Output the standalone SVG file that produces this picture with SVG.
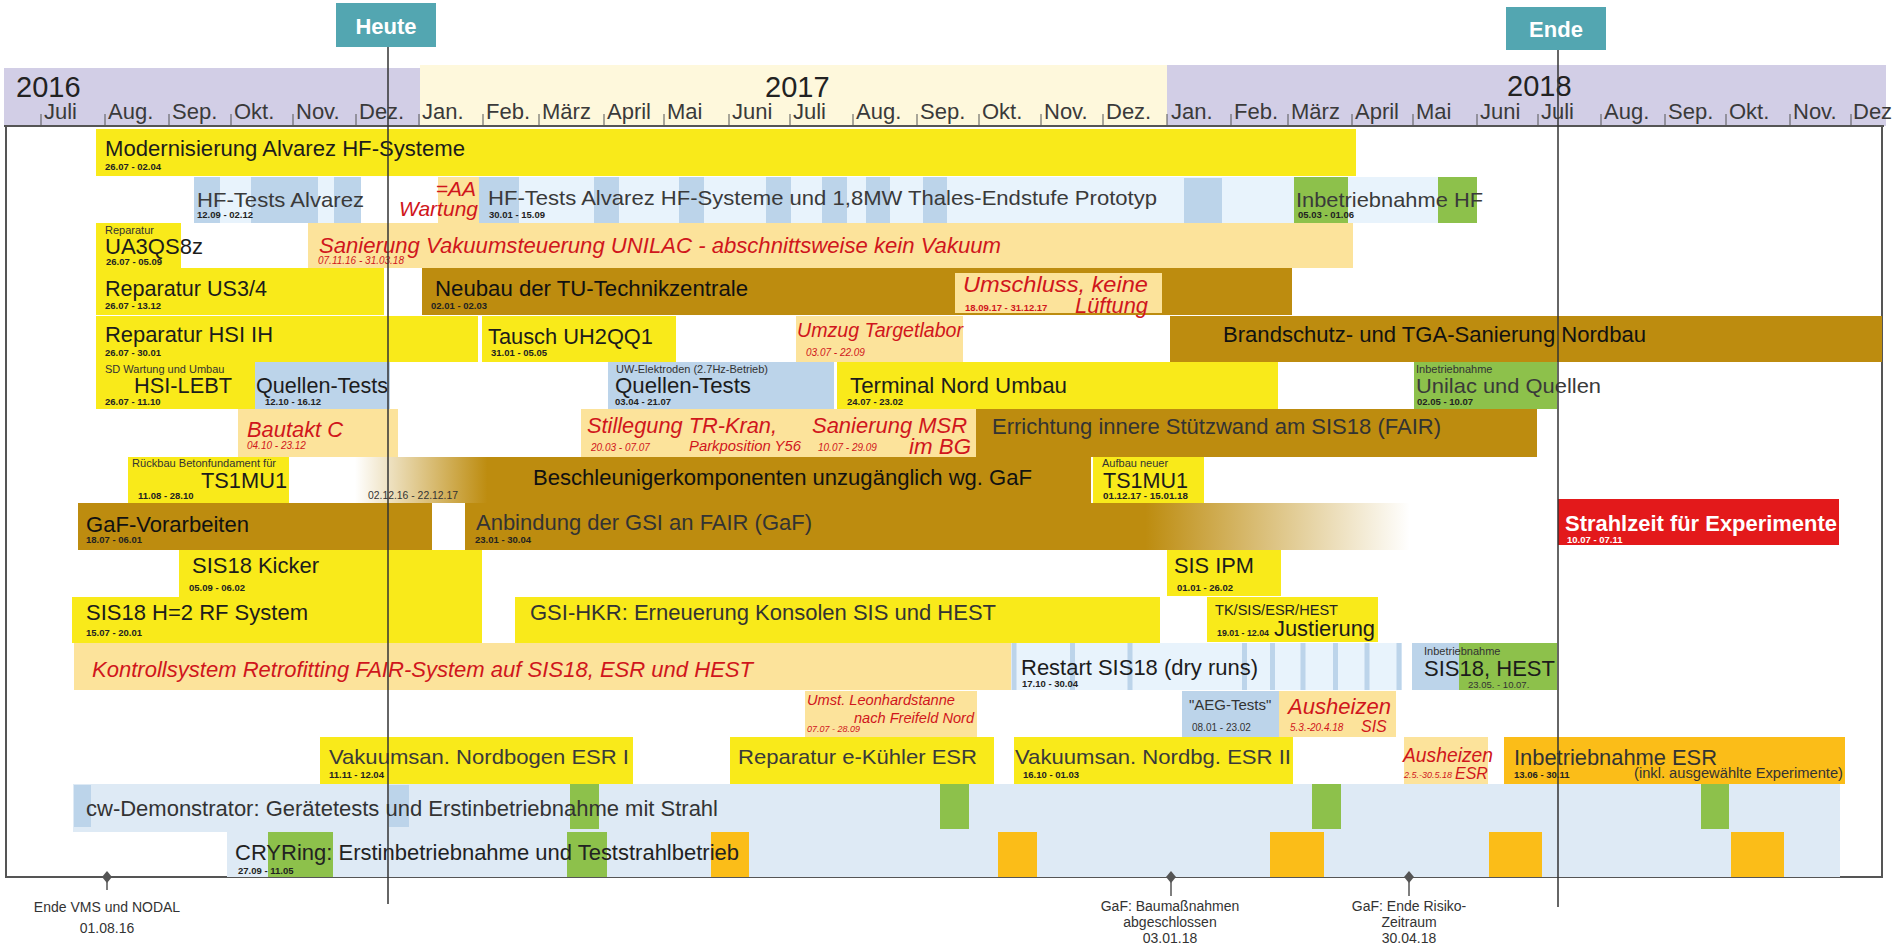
<svg xmlns="http://www.w3.org/2000/svg" width="1893" height="945" viewBox="0 0 1893 945">
<defs>
<style>
text{font-family:"Liberation Sans",Arial,Helvetica,sans-serif}
.y{fill:#F9EA1A}.g{fill:#BD8C0F}.lo{fill:#FCE39B}.b{fill:#BCD4EA}.lb{fill:#E8F3FC}.cw{fill:#DEEAF5}.gr{fill:#8DC14B}.or{fill:#FBBD18}
.t{font-size:22px;fill:#1c1c1c}
.tg{font-size:21px;fill:#3a3a3a}
.tr{font-size:22px;fill:#D0161C;font-style:italic}
.d{font-size:9.5px;font-weight:bold;fill:#222}
.dr{font-size:10px;font-style:italic;fill:#D0161C}
.s{font-size:11px;fill:#333}
.m{font-size:22px;fill:#3a3a3a}
.yr{font-size:29px;fill:#222}
.ms{font-size:14px;fill:#333;text-anchor:middle}
</style>
<linearGradient id="gBes" x1="0" x2="1" y1="0" y2="0">
<stop offset="0" stop-color="#BD8C0F" stop-opacity="0"/>
<stop offset="0.18" stop-color="#BD8C0F" stop-opacity="1"/>
<stop offset="1" stop-color="#BD8C0F" stop-opacity="1"/>
</linearGradient>
<linearGradient id="gAnb" x1="0" x2="1" y1="0" y2="0">
<stop offset="0" stop-color="#BD8C0F" stop-opacity="1"/>
<stop offset="0.72" stop-color="#BD8C0F" stop-opacity="1"/>
<stop offset="1" stop-color="#BD8C0F" stop-opacity="0"/>
</linearGradient>
</defs>
<rect width="1893" height="945" fill="#fff"/>

<g id="header">
<rect x="4" y="68" width="416" height="58" fill="#D2CEE6"/>
<rect x="420" y="65" width="747" height="61" fill="#FEF8DC"/>
<rect x="1167" y="65" width="719" height="61" fill="#D2CEE6"/>
<text class="yr" x="16" y="97">2016</text>
<text class="yr" x="765" y="97">2017</text>
<text class="yr" x="1507" y="96">2018</text>
<path d="M41 114V126M105 114V126M169 114V126M231 114V126M293 114V126M356 114V126M419 114V126M483 114V126M539 114V126M604 114V126M664 114V126M729 114V126M790 114V126M853 114V126M917 114V126M979 114V126M1041 114V126M1103 114V126M1167 114V126M1231 114V126M1288 114V126M1352 114V126M1413 114V126M1477 114V126M1538 114V126M1601 114V126M1665 114V126M1726 114V126M1790 114V126M1851 114V126" stroke="#555" stroke-width="1"/>
<text class="m" x="44" y="119">Juli</text>
<text class="m" x="108" y="119">Aug.</text>
<text class="m" x="172" y="119">Sep.</text>
<text class="m" x="234" y="119">Okt.</text>
<text class="m" x="296" y="119">Nov.</text>
<text class="m" x="359" y="119">Dez.</text>
<text class="m" x="422" y="119">Jan.</text>
<text class="m" x="486" y="119">Feb.</text>
<text class="m" x="542" y="119">März</text>
<text class="m" x="607" y="119">April</text>
<text class="m" x="667" y="119">Mai</text>
<text class="m" x="732" y="119">Juni</text>
<text class="m" x="793" y="119">Juli</text>
<text class="m" x="856" y="119">Aug.</text>
<text class="m" x="920" y="119">Sep.</text>
<text class="m" x="982" y="119">Okt.</text>
<text class="m" x="1044" y="119">Nov.</text>
<text class="m" x="1106" y="119">Dez.</text>
<text class="m" x="1171" y="119">Jan.</text>
<text class="m" x="1234" y="119">Feb.</text>
<text class="m" x="1291" y="119">März</text>
<text class="m" x="1355" y="119">April</text>
<text class="m" x="1416" y="119">Mai</text>
<text class="m" x="1480" y="119">Juni</text>
<text class="m" x="1541" y="119">Juli</text>
<text class="m" x="1604" y="119">Aug.</text>
<text class="m" x="1668" y="119">Sep.</text>
<text class="m" x="1729" y="119">Okt.</text>
<text class="m" x="1793" y="119">Nov.</text>
<text class="m" x="1853" y="119">Dez</text>
</g>

<g id="frame">
<rect x="6" y="126" width="1876" height="751" fill="#fff" stroke="#555" stroke-width="2"/>
<line x1="4" y1="126" x2="1884" y2="126" stroke="#555" stroke-width="2"/>
</g>

<g id="modernisierung">
<rect class="y" x="96" y="129" width="1260" height="47"/>
<text class="t" x="105" y="156" textLength="360" lengthAdjust="spacingAndGlyphs">Modernisierung Alvarez HF-Systeme</text>
<text class="d" x="105" y="170">26.07 - 02.04</text>
</g>

<g id="hf-tests-alvarez">
<rect class="b" x="194" y="177" width="26" height="46"/>
<rect class="lb" x="220" y="177" width="31" height="46"/>
<rect class="b" x="251" y="177" width="67" height="46"/>
<rect class="lb" x="318" y="177" width="16" height="46"/>
<rect class="b" x="334" y="177" width="27" height="46"/>
<text class="tg" x="197" y="207" textLength="167" lengthAdjust="spacingAndGlyphs">HF-Tests Alvarez</text>
<text class="d" x="197" y="218">12.09 - 02.12</text>
</g>

<g id="aa-wartung">
<rect class="lo" x="438" y="177" width="41" height="46"/>
<text class="tr" x="476" y="196" text-anchor="end" style="font-size:21px">=AA</text>
<text class="tr" x="478" y="216" text-anchor="end" style="font-size:21px">Wartung</text>
</g>

<g id="hf-tests-prototyp">
<rect class="lb" x="479" y="177" width="959" height="46"/>
<rect class="b" x="479" y="177" width="40" height="46"/>
<rect class="b" x="594" y="177" width="25" height="46"/>
<rect class="b" x="679" y="177" width="25" height="46"/>
<rect class="b" x="766" y="177" width="25" height="46"/>
<rect class="b" x="822" y="177" width="25" height="46"/>
<rect class="b" x="866" y="177" width="24" height="46"/>
<rect class="b" x="923" y="177" width="24" height="46"/>
<rect class="b" x="1184" y="178" width="38" height="45"/>
<text class="tg" x="488" y="205" textLength="669" lengthAdjust="spacingAndGlyphs">HF-Tests Alvarez HF-Systeme und 1,8MW Thales-Endstufe Prototyp</text>
<text class="d" x="489" y="218">30.01 - 15.09</text>
</g>

<g id="inbetriebnahme-hf">
<rect class="gr" x="1294" y="177" width="54" height="46"/>
<rect class="gr" x="1438" y="177" width="39" height="46"/>
<text class="tg" x="1296" y="207" textLength="187" lengthAdjust="spacingAndGlyphs">Inbetriebnahme HF</text>
<text class="d" x="1298" y="218">05.03 - 01.06</text>
</g>

<g id="ua3qs8z">
<rect class="y" x="96" y="223" width="85" height="45"/>
<text class="s" x="105" y="234">Reparatur</text>
<text class="t" x="105" y="254" textLength="98" lengthAdjust="spacingAndGlyphs">UA3QS8z</text>
<text class="d" x="106" y="265">26.07 - 05.09</text>
</g>

<g id="sanierung-vakuum">
<rect class="lo" x="308" y="223" width="1045" height="45"/>
<text class="tr" x="319" y="253" textLength="682" lengthAdjust="spacingAndGlyphs">Sanierung Vakuumsteuerung UNILAC - abschnittsweise kein Vakuum</text>
<text class="dr" x="318" y="264">07.11.16 - 31.03.18</text>
</g>

<g id="us34">
<rect class="y" x="96" y="268" width="288" height="47"/>
<text class="t" x="105" y="296" textLength="162" lengthAdjust="spacingAndGlyphs">Reparatur US3/4</text>
<text class="d" x="105" y="309">26.07 - 13.12</text>
</g>

<g id="neubau-tu">
<rect class="g" x="422" y="268" width="870" height="47"/>
<text class="t" x="435" y="296" textLength="313" lengthAdjust="spacingAndGlyphs" style="fill:#111">Neubau der TU-Technikzentrale</text>
<text class="d" x="431" y="309">02.01 - 02.03</text>
</g>

<g id="umschluss">
<rect class="lo" x="955" y="273" width="207" height="40"/>
<text class="tr" x="963" y="292" textLength="185" lengthAdjust="spacingAndGlyphs">Umschluss, keine</text>
<text class="tr" x="1075" y="313" textLength="73" lengthAdjust="spacingAndGlyphs">Lüftung</text>
<text class="dr" x="965" y="311" style="font-style:normal;font-weight:bold;font-size:9.5px">18.09.17 - 31.12.17</text>
</g>

<g id="hsi-ih">
<rect class="y" x="96" y="316" width="382" height="46"/>
<text class="t" x="105" y="342" textLength="168" lengthAdjust="spacingAndGlyphs">Reparatur HSI IH</text>
<text class="d" x="105" y="356">26.07 - 30.01</text>
</g>

<g id="tausch">
<rect class="y" x="482" y="316" width="194" height="46"/>
<text class="t" x="488" y="344" textLength="165" lengthAdjust="spacingAndGlyphs">Tausch UH2QQ1</text>
<text class="d" x="491" y="356">31.01 - 05.05</text>
</g>

<g id="umzug">
<rect class="lo" x="796" y="316" width="167" height="46"/>
<text class="tr" x="797" y="337" textLength="166" lengthAdjust="spacingAndGlyphs" style="font-size:20px">Umzug Targetlabor</text>
<text class="dr" x="806" y="356">03.07 - 22.09</text>
</g>

<g id="brandschutz">
<rect class="g" x="1170" y="316" width="712" height="46"/>
<text class="t" x="1223" y="342" textLength="423" lengthAdjust="spacingAndGlyphs" style="fill:#111">Brandschutz- und TGA-Sanierung Nordbau</text>
</g>

<g id="hsi-lebt">
<rect class="y" x="96" y="362" width="159" height="47"/>
<text class="s" x="105" y="373">SD Wartung und Umbau</text>
<text class="t" x="134" y="393" textLength="98" lengthAdjust="spacingAndGlyphs">HSI-LEBT</text>
<text class="d" x="105" y="405">26.07 - 11.10</text>
</g>

<g id="quellen-tests-1">
<rect class="b" x="255" y="362" width="135" height="47"/>
<text class="t" x="256" y="393" textLength="132" lengthAdjust="spacingAndGlyphs">Quellen-Tests</text>
<text class="d" x="265" y="405">12.10 - 16.12</text>
</g>

<g id="quellen-tests-2">
<rect class="b" x="608" y="362" width="226" height="47"/>
<text class="s" x="616" y="373" textLength="152" lengthAdjust="spacingAndGlyphs">UW-Elektroden (2.7Hz-Betrieb)</text>
<text class="t" x="615" y="393" textLength="136" lengthAdjust="spacingAndGlyphs">Quellen-Tests</text>
<text class="d" x="615" y="405">03.04 - 21.07</text>
</g>

<g id="terminal-nord">
<rect class="y" x="837" y="362" width="441" height="47"/>
<text class="t" x="850" y="393" textLength="217" lengthAdjust="spacingAndGlyphs">Terminal Nord Umbau</text>
<text class="d" x="847" y="405">24.07 - 23.02</text>
</g>

<g id="unilac-quellen">
<rect class="gr" x="1414" y="362" width="143" height="47"/>
<text class="s" x="1416" y="373">Inbetriebnahme</text>
<text class="tg" x="1416" y="393" textLength="185" lengthAdjust="spacingAndGlyphs">Unilac und Quellen</text>
<text class="d" x="1417" y="405">02.05 - 10.07</text>
</g>

<g id="bautakt-c">
<rect class="lo" x="238" y="409" width="160" height="48"/>
<text class="tr" x="247" y="437" textLength="96" lengthAdjust="spacingAndGlyphs">Bautakt C</text>
<text class="dr" x="247" y="449">04.10 - 23.12</text>
</g>

<g id="stillegung">
<rect class="lo" x="581" y="409" width="226" height="48"/>
<text class="tr" x="587" y="433" textLength="190" lengthAdjust="spacingAndGlyphs">Stillegung TR-Kran,</text>
<text class="tr" x="689" y="451" textLength="112" lengthAdjust="spacingAndGlyphs" style="font-size:15px">Parkposition Y56</text>
<text class="dr" x="591" y="451">20.03 - 07.07</text>
</g>

<g id="sanierung-msr">
<rect class="lo" x="807" y="409" width="169" height="48"/>
<text class="tr" x="812" y="433" textLength="155" lengthAdjust="spacingAndGlyphs">Sanierung MSR</text>
<text class="tr" x="909" y="454" textLength="62" lengthAdjust="spacingAndGlyphs">im BG</text>
<text class="dr" x="818" y="451">10.07 - 29.09</text>
</g>

<g id="errichtung">
<rect class="g" x="976" y="409" width="561" height="48"/>
<text class="t" x="992" y="434" textLength="449" lengthAdjust="spacingAndGlyphs" style="fill:#333">Errichtung innere Stützwand am SIS18 (FAIR)</text>
</g>

<g id="rueckbau-ts1mu1">
<rect class="y" x="128" y="457" width="161" height="46"/>
<text class="s" x="132" y="467" textLength="144" lengthAdjust="spacingAndGlyphs">Rückbau Betonfundament für</text>
<text class="t" x="201" y="488" textLength="86" lengthAdjust="spacingAndGlyphs">TS1MU1</text>
<text class="d" x="138" y="499">11.08 - 28.10</text>
</g>

<g id="beschleuniger">
<rect x="355" y="457" width="736" height="46" fill="url(#gBes)"/>
<text class="t" x="533" y="485" textLength="499" lengthAdjust="spacingAndGlyphs" style="fill:#111">Beschleunigerkomponenten unzugänglich wg. GaF</text>
<text x="368" y="499" style="font-size:11px;fill:#333" textLength="90" lengthAdjust="spacingAndGlyphs">02.12.16 - 22.12.17</text>
</g>

<g id="aufbau-ts1mu1">
<rect class="y" x="1093" y="457" width="111" height="46"/>
<text class="s" x="1102" y="467">Aufbau neuer</text>
<text class="t" x="1103" y="488" textLength="85" lengthAdjust="spacingAndGlyphs">TS1MU1</text>
<text class="d" x="1103" y="499" textLength="85" lengthAdjust="spacingAndGlyphs">01.12.17 - 15.01.18</text>
</g>

<g id="gaf-vorarbeiten">
<rect class="g" x="78" y="503" width="354" height="47"/>
<text class="t" x="86" y="532" textLength="163" lengthAdjust="spacingAndGlyphs" style="fill:#111">GaF-Vorarbeiten</text>
<text class="d" x="86" y="543">18.07 - 06.01</text>
</g>

<g id="anbindung">
<rect x="465" y="503" width="945" height="47" fill="url(#gAnb)"/>
<text class="t" x="476" y="530" textLength="336" lengthAdjust="spacingAndGlyphs" style="fill:#333">Anbindung der GSI an FAIR (GaF)</text>
<text class="d" x="475" y="543">23.01 - 30.04</text>
</g>

<g id="strahlzeit">
<rect x="1558" y="499" width="281" height="46" fill="#E3191B"/>
<text x="1565" y="531" textLength="272" lengthAdjust="spacingAndGlyphs" style="font-size:22px;font-weight:bold;fill:#fff">Strahlzeit für Experimente</text>
<text class="d" x="1567" y="543" style="fill:#fff">10.07 - 07.11</text>
</g>

<g id="sis18-kicker">
<rect class="y" x="179" y="550" width="303" height="47"/>
<text class="t" x="192" y="573" textLength="127" lengthAdjust="spacingAndGlyphs">SIS18 Kicker</text>
<text class="d" x="189" y="591">05.09 - 06.02</text>
</g>

<g id="sis-ipm">
<rect class="y" x="1167" y="550" width="114" height="46"/>
<text class="t" x="1174" y="573" textLength="80" lengthAdjust="spacingAndGlyphs">SIS IPM</text>
<text class="d" x="1177" y="591">01.01 - 26.02</text>
</g>

<g id="sis18-h2-rf">
<rect class="y" x="72" y="597" width="410" height="46"/>
<text class="t" x="86" y="620" textLength="222" lengthAdjust="spacingAndGlyphs">SIS18 H=2 RF System</text>
<text class="d" x="86" y="636">15.07 - 20.01</text>
</g>

<g id="gsi-hkr">
<rect class="y" x="515" y="597" width="645" height="46"/>
<text class="t" x="530" y="620" textLength="466" lengthAdjust="spacingAndGlyphs" style="fill:#333">GSI-HKR: Erneuerung Konsolen SIS und HEST</text>
</g>

<g id="justierung">
<rect class="y" x="1207" y="597" width="171" height="45"/>
<text x="1215" y="615" textLength="123" lengthAdjust="spacingAndGlyphs" style="font-size:14.5px;fill:#222">TK/SIS/ESR/HEST</text>
<text class="t" x="1274" y="636" textLength="101" lengthAdjust="spacingAndGlyphs">Justierung</text>
<text class="d" x="1217" y="636" textLength="52" lengthAdjust="spacingAndGlyphs">19.01 - 12.04</text>
</g>

<g id="kontrollsystem">
<rect class="lo" x="74" y="643" width="937" height="47"/>
<text class="tr" x="92" y="677" textLength="661" lengthAdjust="spacingAndGlyphs">Kontrollsystem Retrofitting FAIR-System auf SIS18, ESR und HEST</text>
</g>

<g id="restart-sis18">
<rect class="lb" x="1012" y="643" width="390" height="47"/>
<path d="M1014 643V690M1072.5 643V690M1130 643V690M1244.5 643V690M1272.5 643V690M1303 643V690M1335.5 643V690M1367 643V690M1399 643V690" stroke="#BCD4EA" stroke-width="5"/>
<text class="t" x="1021" y="675" textLength="237" lengthAdjust="spacingAndGlyphs">Restart SIS18 (dry runs)</text>
<text class="d" x="1022" y="687">17.10 - 30.04</text>
</g>

<g id="inbetriebnahme-sis18">
<rect class="b" x="1412" y="643" width="47" height="47"/>
<rect class="gr" x="1459" y="643" width="98" height="47"/>
<text class="s" x="1424" y="655">Inbetriebnahme</text>
<text class="t" x="1424" y="676" textLength="131" lengthAdjust="spacingAndGlyphs">SIS18, HEST</text>
<text x="1468" y="688" style="font-size:9.5px;fill:#333">23.05. - 10.07.</text>
</g>

<g id="umst-leonhardstanne">
<rect class="lo" x="805" y="691" width="172" height="46"/>
<text class="tr" x="807" y="705" textLength="148" lengthAdjust="spacingAndGlyphs" style="font-size:14px">Umst. Leonhardstanne</text>
<text class="tr" x="854" y="723" textLength="120" lengthAdjust="spacingAndGlyphs" style="font-size:14px">nach Freifeld Nord</text>
<text class="dr" x="807" y="732" style="font-size:9px">07.07 - 28.09</text>
</g>

<g id="aeg-tests">
<rect class="b" x="1182" y="691" width="97" height="46"/>
<text x="1189" y="710" style="font-size:15px;fill:#333">"AEG-Tests"</text>
<text x="1192" y="731" style="font-size:10px;fill:#333">08.01 - 23.02</text>
</g>

<g id="ausheizen-sis">
<rect class="lo" x="1279" y="691" width="117" height="46"/>
<text class="tr" x="1288" y="714" textLength="103" lengthAdjust="spacingAndGlyphs">Ausheizen</text>
<text class="tr" x="1361" y="732" style="font-size:16px">SIS</text>
<text class="dr" x="1290" y="731">5.3.-20.4.18</text>
</g>

<g id="vakuumsan-esr-1">
<rect class="y" x="320" y="737" width="313" height="47"/>
<text class="tg" x="329" y="764" textLength="300" lengthAdjust="spacingAndGlyphs">Vakuumsan. Nordbogen ESR I</text>
<text class="d" x="329" y="778">11.11 - 12.04</text>
</g>

<g id="e-kuehler">
<rect class="y" x="730" y="737" width="264" height="47"/>
<text class="tg" x="738" y="764" textLength="239" lengthAdjust="spacingAndGlyphs">Reparatur e-Kühler ESR</text>
</g>

<g id="vakuumsan-esr-2">
<rect class="y" x="1014" y="737" width="279" height="47"/>
<text class="tg" x="1015" y="764" textLength="276" lengthAdjust="spacingAndGlyphs">Vakuumsan. Nordbg. ESR II</text>
<text class="d" x="1023" y="778">16.10 - 01.03</text>
</g>

<g id="ausheizen-esr">
<rect class="lo" x="1404" y="737" width="84" height="47"/>
<text class="tr" x="1403" y="762" textLength="90" lengthAdjust="spacingAndGlyphs" style="font-size:20px">Ausheizen</text>
<text class="dr" x="1404" y="778" style="font-size:9px">2.5.-30.5.18</text>
<text class="tr" x="1455" y="779" style="font-size:16px">ESR</text>
</g>

<g id="inbetriebnahme-esr">
<rect class="or" x="1504" y="737" width="341" height="47"/>
<text class="t" x="1514" y="765" textLength="203" lengthAdjust="spacingAndGlyphs" style="fill:#333">Inbetriebnahme ESR</text>
<text class="d" x="1514" y="778">13.06 - 30.11</text>
<text x="1634" y="778" textLength="209" lengthAdjust="spacingAndGlyphs" style="font-size:14px;fill:#333">(inkl. ausgewählte Experimente)</text>
</g>

<g id="cw-demonstrator">
<rect class="cw" x="73" y="784" width="1767" height="48"/>
<rect class="b" x="74" y="785" width="17" height="42"/>
<rect class="b" x="389" y="785" width="20" height="42"/>
<rect class="gr" x="570" y="784" width="29" height="45"/>
<rect class="gr" x="940" y="784" width="29" height="45"/>
<rect class="gr" x="1312" y="784" width="29" height="45"/>
<rect class="gr" x="1701" y="784" width="28" height="45"/>
<text class="t" x="86" y="816" textLength="632" lengthAdjust="spacingAndGlyphs" style="fill:#333">cw-Demonstrator: Gerätetests und Erstinbetriebnahme mit Strahl</text>
</g>

<g id="cryring">
<rect class="cw" x="227" y="832" width="1613" height="45"/>
<rect class="gr" x="268" y="832" width="65" height="45"/>
<rect class="gr" x="567" y="832" width="40" height="45"/>
<rect class="or" x="711" y="832" width="38" height="45"/>
<rect class="or" x="998" y="832" width="39" height="45"/>
<rect class="or" x="1270" y="832" width="54" height="45"/>
<rect class="or" x="1489" y="832" width="53" height="45"/>
<rect class="or" x="1731" y="832" width="53" height="45"/>
<text class="t" x="235" y="860" textLength="504" lengthAdjust="spacingAndGlyphs" style="fill:#222">CRYRing: Erstinbetriebnahme und Teststrahlbetrieb</text>
<text class="d" x="238" y="874">27.09 - 11.05</text>
</g>

<g id="milestone-vms">
<path d="M107 871L112 877L107 883L102 877Z" fill="#555"/>
<text class="ms" x="107" y="912">Ende VMS und NODAL</text>
<text class="ms" x="107" y="933">01.08.16</text>
</g>

<g id="milestone-baumassnahmen">
<path d="M1171 871L1176 877L1171 883L1166 877Z" fill="#555"/>
<text class="ms" x="1170" y="911">GaF: Baumaßnahmen</text>
<text class="ms" x="1170" y="927">abgeschlossen</text>
<text class="ms" x="1170" y="943">03.01.18</text>
</g>

<g id="milestone-risiko">
<path d="M1409 871L1414 877L1409 883L1404 877Z" fill="#555"/>
<text class="ms" x="1409" y="911">GaF: Ende Risiko-</text>
<text class="ms" x="1409" y="927">Zeitraum</text>
<text class="ms" x="1409" y="943">30.04.18</text>
</g>

<g id="connectors" stroke="#333" stroke-width="1.5" fill="none">
<line x1="388" y1="47" x2="388" y2="904"/>
<line x1="1558" y1="50" x2="1558" y2="907"/>
<line x1="107" y1="877" x2="107" y2="890" stroke="#555"/>
<line x1="1171" y1="877" x2="1171" y2="896" stroke="#555"/>
<line x1="1409" y1="877" x2="1409" y2="896" stroke="#555"/>
</g>

<g id="heute">
<rect x="336" y="3" width="100" height="44" fill="#53A6B1"/>
<text x="386" y="34" text-anchor="middle" style="font-size:22px;font-weight:bold;fill:#fff">Heute</text>
</g>

<g id="ende">
<rect x="1506" y="7" width="100" height="43" fill="#53A6B1"/>
<text x="1556" y="37" text-anchor="middle" style="font-size:22px;font-weight:bold;fill:#fff">Ende</text>
</g>
</svg>
